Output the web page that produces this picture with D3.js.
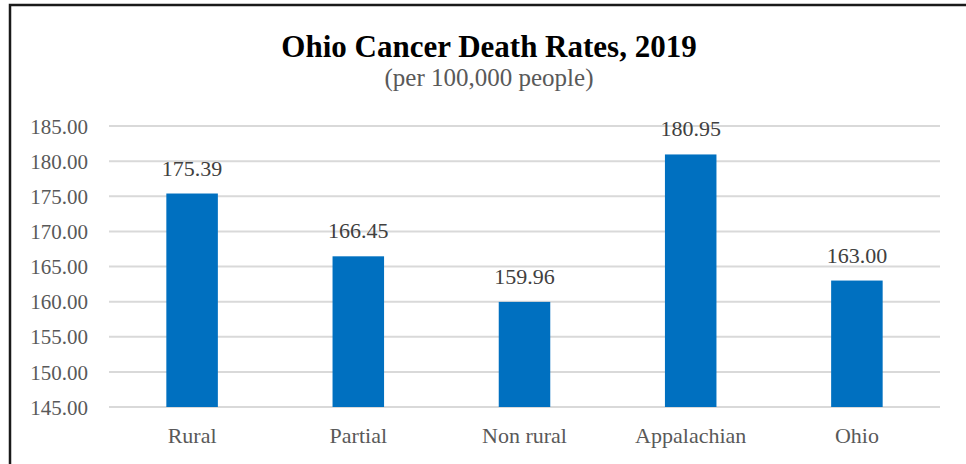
<!DOCTYPE html>
<meta charset="utf-8" />
<title>Ohio Cancer Death Rates, 2019</title>
<style>
  body { margin: 0; background: #fff; }
  text { font-family: "Liberation Serif", "DejaVu Serif", serif; }
  .grid line { stroke: #d9d9d9; stroke-width: 2px; }
  .tick text { fill: #595959; font-size: 21px; }
</style>
<body>
<svg width="966" height="464"></svg>
<script src="https://d3js.org/d3.v7.min.js"></script>
<script>
const categories = ["Rural", "Partial", "Non rural", "Appalachian", "Ohio"];
const rates = [175.39, 166.45, 159.96, 180.95, 163.00];
const yTicks = [145, 150, 155, 160, 165, 170, 175, 180, 185];

const width = 966, height = 464;
const margin = { top: 126, right: 26, bottom: 57, left: 109 };
const svg = d3.select("svg");

// outer frame (only top and left edges fall inside the picture)
svg.append("path")
  .attr("d", `M10,${height} L10,5 L${width},5`)
  .attr("fill", "none")
  .attr("stroke", "#1a1a1a")
  .attr("stroke-width", 2.5);

const x = d3.scaleBand()
  .domain(categories)
  .range([margin.left, width - margin.right])
  .paddingInner(0.69)
  .paddingOuter(0.345);

const y = d3.scaleLinear()
  .domain([145, 185])
  .range([height - margin.bottom, margin.top]);

// gridlines
svg.append("g")
  .attr("class", "grid")
  .selectAll("line")
  .data(yTicks).join("line")
  .attr("x1", margin.left)
  .attr("x2", width - margin.right)
  .attr("y1", d => y(d))
  .attr("y2", d => y(d));

// y axis labels
const yAxis = svg.append("g")
  .attr("transform", `translate(${margin.left - 21},0)`)
  .call(d3.axisLeft(y).tickValues(yTicks).tickFormat(d3.format(".2f")).tickSize(0).tickPadding(0));
yAxis.select(".domain").remove();
yAxis.selectAll("text").attr("dy", "0.34em");

// bars
svg.append("g").selectAll("rect")
  .data(rates).join("rect")
  .attr("x", (d, i) => x(categories[i]))
  .attr("y", d => y(d))
  .attr("width", x.bandwidth())
  .attr("height", d => y(145) - y(d))
  .attr("fill", "#0070c0");

// value labels
svg.append("g").selectAll("text")
  .data(rates).join("text")
  .attr("x", (d, i) => x(categories[i]) + x.bandwidth() / 2)
  .attr("y", d => y(d) - 18)
  .attr("text-anchor", "middle")
  .attr("fill", "#404040")
  .attr("font-size", 22)
  .text(d => d3.format(".2f")(d));

// category labels
const xAxis = svg.append("g")
  .attr("transform", `translate(0,${height - margin.bottom})`)
  .call(d3.axisBottom(x).tickSize(0).tickPadding(20));
xAxis.select(".domain").remove();
xAxis.selectAll("text").style("font-size", "22px");

// title
svg.append("text")
  .attr("x", 489).attr("y", 57)
  .attr("text-anchor", "middle")
  .attr("font-size", 31)
  .attr("font-weight", "bold")
  .attr("fill", "#000")
  .text("Ohio Cancer Death Rates, 2019");

svg.append("text")
  .attr("x", 489).attr("y", 86)
  .attr("text-anchor", "middle")
  .attr("font-size", 25)
  .attr("fill", "#595959")
  .text("(per 100,000 people)");
</script>
</body>
